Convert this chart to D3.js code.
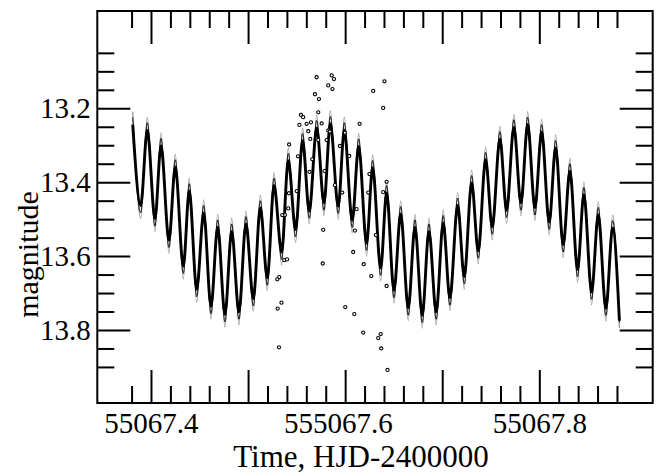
<!DOCTYPE html>
<html>
<head>
<meta charset="utf-8">
<script src="https://cdn.jsdelivr.net/npm/d3@7"></script>
<style>
  body { margin: 0; background: #fff; }
  text { font-family: "Liberation Serif", "Times New Roman", serif; fill: #000; }
</style>
</head>
<body>
<div id="chart"></div>
<script>
// light-curve extrema (HJD-2400000, mag)
const peakTime = [55067.3812, 55067.3962, 55067.4103, 55067.4250, 55067.4394, 55067.4543, 55067.4687, 55067.4831, 55067.4978, 55067.5126, 55067.5267, 55067.5414, 55067.5562, 55067.5707, 55067.5847, 55067.5991, 55067.6139, 55067.6283, 55067.6427, 55067.6572, 55067.6719, 55067.6863, 55067.7010, 55067.7159, 55067.7303, 55067.7447, 55067.7594, 55067.7738, 55067.7880, 55067.8024, 55067.8168, 55067.8315, 55067.8459, 55067.8607, 55067.8755];
const troughTime = [55067.3894, 55067.4041, 55067.4185, 55067.4333, 55067.4471, 55067.4618, 55067.4762, 55067.4906, 55067.5054, 55067.5198, 55067.5346, 55067.5490, 55067.5630, 55067.5782, 55067.5929, 55067.6073, 55067.6221, 55067.6366, 55067.6503, 55067.6650, 55067.6794, 55067.6938, 55067.7079, 55067.7227, 55067.7371, 55067.7515, 55067.7663, 55067.7811, 55067.7955, 55067.8102, 55067.8246, 55067.8394, 55067.8539, 55067.8686, 55067.8825];

// outer (grey) model curve
const outerPeak = [13.209, 13.224, 13.266, 13.324, 13.389, 13.448, 13.487, 13.498, 13.478, 13.435, 13.374, 13.307, 13.253, 13.218, 13.207, 13.224, 13.268, 13.326, 13.394, 13.451, 13.487, 13.498, 13.475, 13.428, 13.367, 13.304, 13.248, 13.216, 13.209, 13.229, 13.272, 13.335, 13.399, 13.453, 13.489];
const outerTrough = [13.498, 13.534, 13.592, 13.662, 13.725, 13.771, 13.793, 13.786, 13.750, 13.694, 13.624, 13.563, 13.513, 13.491, 13.500, 13.538, 13.600, 13.667, 13.728, 13.775, 13.795, 13.786, 13.748, 13.690, 13.621, 13.556, 13.511, 13.491, 13.504, 13.543, 13.604, 13.671, 13.732, 13.776, 13.795];

// thin black model curve
const midPeak = [13.224, 13.239, 13.281, 13.339, 13.404, 13.463, 13.502, 13.513, 13.493, 13.450, 13.389, 13.322, 13.268, 13.233, 13.222, 13.239, 13.283, 13.341, 13.409, 13.466, 13.502, 13.513, 13.490, 13.443, 13.382, 13.319, 13.263, 13.231, 13.224, 13.244, 13.287, 13.350, 13.414, 13.468, 13.504];
const midTrough = [13.483, 13.519, 13.577, 13.647, 13.710, 13.756, 13.778, 13.771, 13.735, 13.679, 13.609, 13.548, 13.498, 13.476, 13.485, 13.523, 13.585, 13.652, 13.713, 13.760, 13.780, 13.771, 13.733, 13.675, 13.606, 13.541, 13.496, 13.476, 13.489, 13.528, 13.589, 13.656, 13.717, 13.761, 13.780];

// thick black model curve
const corePeak = [13.244, 13.259, 13.301, 13.359, 13.424, 13.483, 13.522, 13.533, 13.513, 13.470, 13.409, 13.342, 13.288, 13.253, 13.242, 13.259, 13.303, 13.361, 13.429, 13.486, 13.522, 13.533, 13.510, 13.463, 13.402, 13.339, 13.283, 13.251, 13.244, 13.264, 13.307, 13.370, 13.434, 13.488, 13.524];
const coreTrough = [13.463, 13.499, 13.557, 13.627, 13.690, 13.736, 13.758, 13.751, 13.715, 13.659, 13.589, 13.528, 13.478, 13.456, 13.465, 13.503, 13.565, 13.632, 13.693, 13.740, 13.760, 13.751, 13.713, 13.655, 13.586, 13.521, 13.476, 13.456, 13.469, 13.508, 13.569, 13.636, 13.697, 13.741, 13.775];

// observations
const obsTime = [55067.5706, 55067.5861, 55067.5885, 55067.5826, 55067.5869, 55067.5689, 55067.5730, 55067.6289, 55067.6405, 55067.6392, 55067.5723, 55067.5545, 55067.5568, 55067.5529, 55067.5603, 55067.5648, 55067.5620, 55067.5641, 55067.6149, 55067.5826, 55067.5423, 55067.5514, 55067.5661, 55067.5633, 55067.5788, 55067.5946, 55067.6042, 55067.6250, 55067.6427, 55067.5998, 55067.5843, 55067.5723, 55067.5809, 55067.5758, 55067.5421, 55067.5501, 55067.5380, 55067.5352, 55067.5414, 55067.5774, 55067.6101, 55067.5970, 55067.6238, 55067.6392, 55067.6317, 55067.6118, 55067.5373, 55067.5401, 55067.5321, 55067.5301, 55067.5344, 55067.5305, 55067.5318, 55067.5769, 55067.6083, 55067.6191, 55067.6269, 55067.6001, 55067.6094, 55067.6186, 55067.6341, 55067.6366, 55067.6372, 55067.6436, 55067.6427, 55067.5895];
const obsMag = [13.116, 13.111, 13.121, 13.138, 13.148, 13.162, 13.175, 13.153, 13.127, 13.199, 13.211, 13.218, 13.224, 13.245, 13.242, 13.238, 13.262, 13.283, 13.242, 13.260, 13.298, 13.330, 13.338, 13.372, 13.370, 13.302, 13.329, 13.378, 13.399, 13.266, 13.263, 13.286, 13.286, 13.241, 13.430, 13.424, 13.489, 13.489, 13.471, 13.529, 13.531, 13.428, 13.428, 13.427, 13.543, 13.473, 13.611, 13.609, 13.657, 13.663, 13.726, 13.742, 13.847, 13.620, 13.589, 13.622, 13.654, 13.738, 13.757, 13.807, 13.822, 13.811, 13.850, 13.908, 13.681, 13.408];

// ticks
const xMajor = [55067.4, 55067.5, 55067.6, 55067.7, 55067.8];
const xMinor = [55067.38, 55067.42, 55067.44, 55067.46, 55067.48, 55067.52, 55067.54, 55067.56, 55067.58, 55067.62, 55067.64, 55067.66, 55067.68, 55067.72, 55067.74, 55067.76, 55067.78, 55067.82, 55067.84, 55067.86, 55067.88];
const xLabelTicks = [55067.4, 55067.6, 55067.8];
const xLabels = ["55067.4", "555067.6", "55067.8"];
const yMajor = [13.2, 13.4, 13.6, 13.8];
const yMinor = [13.05, 13.1, 13.15, 13.25, 13.3, 13.35, 13.45, 13.5, 13.55, 13.65, 13.7, 13.75, 13.85, 13.9];

const W = 662, H = 474;
const box = { left: 97.3, right: 652.7, top: 11, bottom: 403 };

const svg = d3.select("#chart").append("svg")
  .attr("width", W)
  .attr("height", H);

const x = d3.scaleLinear().domain([55067.3447, 55067.9168]).range([box.left, box.right]);
const y = d3.scaleLinear().domain([12.9367, 13.9976]).range([box.top, box.bottom]);

const xTicks = xMajor.concat(xMinor).sort((a, b) => a - b);
const yTicks = yMajor.concat(yMinor).sort((a, b) => a - b);
const isMajor = (list, v) => list.some(m => Math.abs(m - v) < 1e-6);

function styleTicks(g, attr, sign, majors) {
  g.select(".domain").remove();
  g.selectAll(".tick line")
    .attr("stroke-width", 2)
    .attr(attr, d => sign * (isMajor(majors, d) ? 33 : 17));
}

// bottom axis with labels
const xLabelOf = d => {
  const i = xLabelTicks.findIndex(v => Math.abs(v - d) < 1e-6);
  return i < 0 ? "" : xLabels[i];
};
const gBottom = svg.append("g")
  .attr("transform", `translate(0,${box.bottom})`)
  .call(d3.axisBottom(x).tickValues(xTicks).tickSizeInner(-17).tickSizeOuter(0).tickFormat(xLabelOf));
styleTicks(gBottom, "y2", -1, xMajor);
gBottom.selectAll(".tick text")
  .attr("font-size", 29)
  .attr("font-family", "Liberation Serif, serif")
  .attr("y", 9)
  .attr("dy", "0.71em")
  .attr("dx", d => xLabelOf(d).length > 7 ? "-0.25em" : 0);

const gTop = svg.append("g")
  .attr("transform", `translate(0,${box.top})`)
  .call(d3.axisTop(x).tickValues(xTicks).tickSizeInner(-17).tickSizeOuter(0).tickFormat(""));
styleTicks(gTop, "y2", 1, xMajor);

const gLeft = svg.append("g")
  .attr("transform", `translate(${box.left},0)`)
  .call(d3.axisLeft(y).tickValues(yTicks).tickSizeInner(-17).tickSizeOuter(0)
    .tickFormat(d => isMajor(yMajor, d) ? d3.format(".1f")(d) : ""));
styleTicks(gLeft, "x2", 1, yMajor);
gLeft.selectAll(".tick text")
  .attr("font-size", 29)
  .attr("font-family", "Liberation Serif, serif")
  .attr("x", -6.5)
  .attr("dy", "0.33em");

const gRight = svg.append("g")
  .attr("transform", `translate(${box.right},0)`)
  .call(d3.axisRight(y).tickValues(yTicks).tickSizeInner(-17).tickSizeOuter(0).tickFormat(""));
styleTicks(gRight, "x2", -1, yMajor);

svg.append("rect")
  .attr("x", box.left).attr("y", box.top)
  .attr("width", box.right - box.left).attr("height", box.bottom - box.top)
  .attr("fill", "none").attr("stroke", "#000").attr("stroke-width", 2);

// model curves
const line = d3.line()
  .x(d => x(d[0]))
  .y(d => y(d[1]))
  .curve(d3.curveMonotoneX);

function curvePoints(peaks, troughs) {
  return peakTime.flatMap((t, i) => [[t, peaks[i]], [troughTime[i], troughs[i]]]);
}

const curves = [
  { pts: curvePoints(outerPeak, outerTrough), color: "#8a8a8a", width: 1.1 },
  { pts: curvePoints(midPeak, midTrough), color: "#000", width: 0.9 },
  { pts: curvePoints(corePeak, coreTrough), color: "#000", width: 2.9 }
];

svg.append("g").selectAll("path")
  .data(curves)
  .join("path")
  .attr("fill", "none")
  .attr("stroke", d => d.color)
  .attr("stroke-width", d => d.width)
  .attr("stroke-linejoin", "round")
  .attr("d", d => line(d.pts));

// observations
svg.append("g").selectAll("circle")
  .data(obsTime.map((t, i) => [t, obsMag[i]]))
  .join("circle")
  .attr("cx", d => x(d[0]))
  .attr("cy", d => y(d[1]))
  .attr("r", 1.6)
  .attr("fill", "#fff")
  .attr("stroke", "#000")
  .attr("stroke-width", 1.1);

// axis titles
svg.append("text")
  .attr("x", 361).attr("y", 466.5)
  .attr("text-anchor", "middle")
  .attr("font-size", 31)
  .text("Time, HJD-2400000");

svg.append("text")
  .attr("transform", "translate(38,254.5) rotate(-90)")
  .attr("text-anchor", "middle")
  .attr("font-size", 30)
  .text("magnitude");
</script>
</body>
</html>
